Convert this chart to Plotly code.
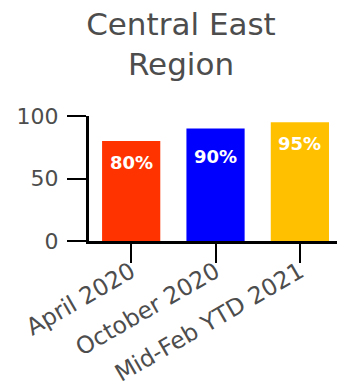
import plotly.graph_objects as go

# Share of target reached per period
periods = ["April 2020", "October 2020", "Mid-Feb YTD 2021"]
values = [80, 90, 95]
bar_colors = ["#FF3300", "#0000FF", "#FFC000"]
label_shift = [-21, -28, -21]
y_ticks = [0, 50, 100]

FONT = "DejaVu Sans, Verdana, sans-serif"
TEXT_GRAY = "#4d4d4d"

fig = go.Figure(
    go.Bar(
        x=periods,
        y=values,
        marker=dict(color=bar_colors, line=dict(width=0)),
        width=0.69,
        hoverinfo="skip",
    )
)

for p, v, s in zip(periods, values, label_shift):
    fig.add_annotation(
        x=p, y=v, text=f"<b>{v}%</b>", showarrow=False,
        yanchor="middle", yshift=s,
        font=dict(family=FONT, size=18, color="white"),
    )

fig.update_layout(
    width=337,
    height=389,
    margin=dict(l=89, r=0, t=116, b=148, pad=0),
    paper_bgcolor="white",
    plot_bgcolor="white",
    showlegend=False,
    title=dict(
        text="Central East<br>Region",
        x=0.537, xanchor="center",
        y=1 - 35 / 389, yanchor="middle",
        font=dict(family=FONT, size=31, color=TEXT_GRAY),
    ),
    font=dict(family=FONT, size=22, color=TEXT_GRAY),
)

fig.update_xaxes(
    range=[-0.5, 2.44],
    showline=True, linecolor="black", linewidth=3,
    ticks="outside", ticklen=19, tickwidth=2, tickcolor="black",
    tickangle=-30,
    ticklabelstandoff=-14,
    tickfont=dict(family=FONT, size=23.5, color=TEXT_GRAY),
    showgrid=False, zeroline=False,
)
fig.update_yaxes(
    range=[0, 100],
    tickvals=y_ticks,
    showline=True, linecolor="black", linewidth=3,
    ticks="outside", ticklen=19, tickwidth=2, tickcolor="black",
    ticklabelstandoff=4,
    tickfont=dict(family=FONT, size=22, color=TEXT_GRAY),
    showgrid=False, zeroline=False,
)

fig.write_html("out.html")
